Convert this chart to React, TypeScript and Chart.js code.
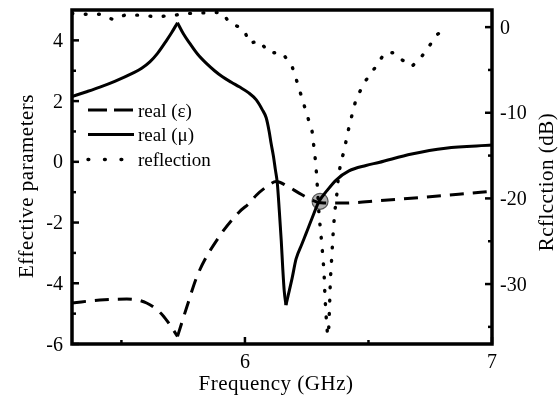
import React, { useEffect, useRef } from "react";
import { Chart, registerables } from "chart.js";

Chart.register(...registerables);

// ---- data (frequency in GHz) ----
const muFreq = [5.3, 5.356, 5.413, 5.473, 5.546, 5.582, 5.615, 5.647, 5.683, 5.703, 5.727, 5.752, 5.776, 5.808, 5.844, 5.877, 5.909, 5.945, 5.977, 6.014, 6.046, 6.07, 6.086, 6.098, 6.106, 6.115, 6.123, 6.131, 6.139, 6.147, 6.153, 6.159, 6.166, 6.175, 6.191, 6.207, 6.231, 6.248, 6.272, 6.3, 6.332, 6.369, 6.421, 6.49, 6.542, 6.675, 6.812, 7.0];
const muVals = [2.15, 2.3, 2.46, 2.65, 2.92, 3.08, 3.29, 3.58, 4.0, 4.25, 4.58, 4.2, 3.91, 3.55, 3.24, 3.0, 2.8, 2.62, 2.47, 2.28, 2.04, 1.72, 1.45, 1.0, 0.6, 0.2, -0.25, -0.7, -1.6, -2.6, -3.5, -4.25, -4.72, -4.4, -3.83, -3.2, -2.7, -2.35, -1.85, -1.3, -0.95, -0.6, -0.3, -0.12, -0.02, 0.26, 0.45, 0.55];

const epsFreq = [5.3, 5.413, 5.522, 5.602, 5.667, 5.703, 5.727, 5.764, 5.808, 5.897, 5.977, 6.018, 6.046, 6.086, 6.127, 6.171, 6.219, 6.272, 6.308, 6.369, 6.433, 6.542, 6.703, 6.865, 7.0];
const epsVals = [-4.65, -4.55, -4.52, -4.65, -5.05, -5.45, -5.75, -4.8, -3.73, -2.45, -1.65, -1.36, -1.1, -0.83, -0.65, -0.8, -1.03, -1.26, -1.35, -1.36, -1.35, -1.28, -1.18, -1.07, -0.97];

const reflFreq = [5.3, 5.352, 5.413, 5.465, 5.514, 5.574, 5.643, 5.715, 5.776, 5.856, 5.909, 5.937, 5.977, 5.998, 6.018, 6.058, 6.098, 6.151, 6.191, 6.211, 6.231, 6.252, 6.272, 6.287, 6.294, 6.3, 6.307, 6.313, 6.32, 6.324, 6.328, 6.334, 6.338, 6.342, 6.346, 6.35, 6.356, 6.363, 6.371, 6.377, 6.387, 6.401, 6.417, 6.433, 6.449, 6.469, 6.49, 6.53, 6.566, 6.606, 6.635, 6.675, 6.711, 6.744, 6.776, 6.824];
const reflVals = [1.6, 1.5, 1.5, 0.9, 1.4, 1.4, 1.2, 1.4, 1.6, 1.7, 1.7, 0.5, 0.0, -0.4, -1.9, -1.6, -3.0, -3.0, -4.6, -6.4, -8.3, -10.3, -12.2, -16, -19, -22, -24, -26, -28.5, -31.5, -33.5, -35.8, -36, -33, -29.4, -27.5, -24.5, -21.7, -19.8, -17.9, -15.9, -14.5, -12.2, -10.3, -8.5, -7.3, -6.2, -4.6, -3.0, -3.0, -3.8, -4.6, -3.6, -2.3, -0.9, 0.0];

const markerFreq = [6.304];
const markerVals = [-1.3];

const xMajorTicks = [6, 7];
const xMinorTicks = [5.5, 6.5];
const leftMajorTicks = [-6, -4, -2, 0, 2, 4];
const leftMinorTicks = [-5, -3, -1, 1, 3];
const rightMajorTicks = [0, -10, -20, -30];
const rightMinorTicks = [-5, -15, -25, -35];

const legendLabels = ["real (\u03b5)", "real (\u03bc)", "reflection"];
const xTitle = "Frequency (GHz)";
const yTitle = "Effective parameters";
const y2Title = "Rcflcction (dB)";

const SERIF = '"Liberation Serif", "DejaVu Serif", serif';

function pts(xs: number[], ys: number[], from = 0, to = xs.length - 1) {
  const out: { x: number; y: number }[] = [];
  for (let i = from; i <= to; i++) out.push({ x: xs[i], y: ys[i] });
  return out;
}
function argMax(a: number[]) { let k = 0; a.forEach((v, i) => { if (v > a[k]) k = i; }); return k; }
function argMin(a: number[]) { let k = 0; a.forEach((v, i) => { if (v < a[k]) k = i; }); return k; }

const decorPlugin = {
  id: "decor",
  afterDraw(chart: any) {
    const { ctx, chartArea: a, scales } = chart;
    const sx = scales.x;
    const sy = scales.y;
    const sy2 = scales.y2;
    ctx.save();
    ctx.strokeStyle = "#000";
    ctx.fillStyle = "#000";

    ctx.lineWidth = 3.5;
    ctx.strokeRect(a.left, a.top, a.right - a.left, a.bottom - a.top);

    const seg = (x1: number, y1: number, x2: number, y2: number) => {
      ctx.beginPath();
      ctx.moveTo(x1, y1);
      ctx.lineTo(x2, y2);
      ctx.stroke();
    };
    ctx.lineWidth = 2.5;
    for (const v of leftMajorTicks) { const p = sy.getPixelForValue(v); seg(a.left, p, a.left + 7, p); }
    for (const v of leftMinorTicks) { const p = sy.getPixelForValue(v); seg(a.left, p, a.left + 4, p); }
    for (const v of rightMajorTicks) { const p = sy2.getPixelForValue(v); seg(a.right, p, a.right - 7, p); }
    for (const v of rightMinorTicks) { const p = sy2.getPixelForValue(v); seg(a.right, p, a.right - 4, p); }
    for (const v of xMajorTicks) { const p = sx.getPixelForValue(v); seg(p, a.bottom, p, a.bottom - 7); }
    for (const v of xMinorTicks) { const p = sx.getPixelForValue(v); seg(p, a.bottom, p, a.bottom - 4); }

    ctx.font = "20px " + SERIF;
    ctx.textBaseline = "alphabetic";
    ctx.textAlign = "right";
    for (const v of leftMajorTicks) ctx.fillText(String(v), a.left - 9, sy.getPixelForValue(v) + 6.5);
    ctx.textAlign = "left";
    for (const v of rightMajorTicks) ctx.fillText(String(v), a.right + 8, sy2.getPixelForValue(v) + 6.5);
    ctx.textAlign = "center";
    for (const v of xMajorTicks) ctx.fillText(String(v), sx.getPixelForValue(v), a.bottom + 24);

    ctx.font = "21px " + SERIF;
    try { (ctx as any).letterSpacing = "0.5px"; } catch (e) {}
    ctx.textAlign = "center";
    ctx.fillText(xTitle, (a.left + a.right) / 2 - 6, 390);
    ctx.save();
    ctx.translate(33, 186);
    ctx.rotate(-Math.PI / 2);
    ctx.fillText(yTitle, 0, 0);
    ctx.restore();
    ctx.save();
    ctx.translate(553, 182);
    ctx.rotate(-Math.PI / 2);
    ctx.fillText(y2Title, 0, 0);
    ctx.restore();
    try { (ctx as any).letterSpacing = "0px"; } catch (e) {}

    const lx0 = a.left + 16;
    const lx1 = a.left + 61;
    const rows = [110, 134.5, 159.5];
    ctx.lineWidth = 3;
    ctx.lineCap = "butt";
    ctx.setLineDash([19, 7]);
    seg(lx0, rows[0], lx1, rows[0]);
    ctx.setLineDash([]);
    seg(lx0, rows[1], lx1 + 1, rows[1]);
    ctx.lineCap = "round";
    ctx.lineWidth = 3.4;
    ctx.setLineDash([0.8, 15.7]);
    seg(lx0, rows[2], lx1, rows[2]);
    ctx.setLineDash([]);
    ctx.font = "19px " + SERIF;
    ctx.textAlign = "left";
    legendLabels.forEach((t, i) => ctx.fillText(t, a.left + 66, rows[i] + 6.5));

    ctx.restore();
  },
};

export default function App() {
  const ref = useRef<HTMLCanvasElement | null>(null);
  useEffect(() => {
    if (!ref.current) return;
    const muPeak = argMax(muVals);
    const muMin = argMin(muVals);
    const epsMin = argMin(epsVals);
    const solid = {
      yAxisID: "y",
      borderColor: "#000",
      borderWidth: 3,
      pointRadius: 0,
      cubicInterpolationMode: "monotone",
      fill: false,
      order: 1,
    };
    const dashed = { ...solid, borderDash: [14, 9] };
    const chart = new Chart(ref.current, {
      type: "line",
      data: {
        datasets: [
          { ...dashed, label: legendLabels[0], data: pts(epsFreq, epsVals, 0, epsMin) },
          { ...dashed, label: legendLabels[0] + " b", data: pts(epsFreq, epsVals, epsMin) },
          { ...solid, label: legendLabels[1], data: pts(muFreq, muVals, 0, muPeak) },
          { ...solid, label: legendLabels[1] + " b", data: pts(muFreq, muVals, muPeak, muMin) },
          { ...solid, label: legendLabels[1] + " c", data: pts(muFreq, muVals, muMin) },
          {
            label: legendLabels[2],
            data: pts(reflFreq, reflVals),
            yAxisID: "y2",
            borderColor: "#000",
            borderWidth: 3.4,
            borderDash: [0.8, 12.5],
            borderCapStyle: "round",
            pointRadius: 0,
            tension: 0,
            fill: false,
            order: 1,
          },
          {
            label: "marker",
            data: pts(markerFreq, markerVals),
            yAxisID: "y",
            showLine: false,
            pointRadius: 8,
            pointBackgroundColor: "rgba(150,150,150,0.75)",
            pointBorderColor: "#555",
            pointBorderWidth: 1.2,
            order: 5,
          },
        ],
      },
      options: {
        responsive: false,
        animation: false,
        devicePixelRatio: 1,
        layout: { padding: { left: 72, right: 68, top: 10, bottom: 51 } },
        plugins: { legend: { display: false }, tooltip: { enabled: false } },
        scales: {
          x: { type: "linear", min: 5.3, max: 7, display: false },
          y: { type: "linear", min: -6, max: 5, display: false },
          y2: { type: "linear", position: "right", min: -37, max: 2, display: false },
        },
      },
      plugins: [decorPlugin],
    } as any);
    return () => chart.destroy();
  }, []);
  return (
    <canvas
      ref={ref}
      width={560}
      height={395}
      style={{ position: "absolute", left: 0, top: 0, display: "block", background: "#fff" }}
    />
  );
}
